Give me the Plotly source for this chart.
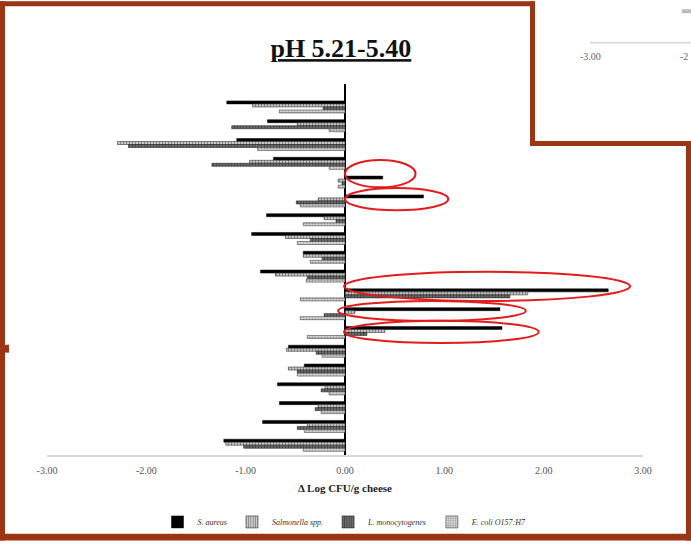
import plotly.graph_objects as go

groups = [f"G{i}" for i in range(1, 20)]
s_aureus = [-1.19, -0.78, -1.09, -0.72, 0.38, 0.79, -0.79, -0.94, -0.42, -0.85,
            2.65, 1.56, 1.58, -0.57, -0.41, -0.68, -0.66, -0.83, -1.22]
salmonella = [-0.93, -0.48, -2.29, -0.96, -0.07, -0.27, -0.21, -0.60, -0.42, -0.70,
              1.84, 0.10, 0.40, -0.59, -0.57, -0.20, -0.27, -0.38, -1.20]
l_mono = [-0.22, -1.14, -2.18, -1.34, -0.03, -0.49, -0.09, -0.35, -0.23, -0.38,
          1.66, -0.21, 0.22, -0.29, -0.48, -0.24, -0.30, -0.48, -1.02]
e_coli = [-0.66, -0.16, -0.88, -0.16, -0.07, -0.45, -0.42, -0.48, -0.35, -0.39,
          -0.45, -0.45, -0.38, -0.23, -0.48, -0.16, -0.24, -0.41, -0.42]
series_names = ["S. aureus", "Salmonella spp.", "L. monocytogenes", "E. coli O157:H7"]
tick_vals = [-3, -2, -1, 0, 1, 2, 3]
tick_text = ["-3.00", "-2.00", "-1.00", "0.00", "1.00", "2.00", "3.00"]

# highlighted groups (x extent in data units, y extent in category index)
highlights = [(0.0, 0.71, 2.82, 4.28), (0.0, 1.04, 4.31, 5.50), (-0.01, 2.87, 8.77, 10.32),
              (-0.07, 1.82, 10.32, 11.38), (-0.01, 1.95, 11.38, 12.56)]

SERIF = "Liberation Serif, Times New Roman, serif"
BROWN = "#9b3513"

styles = [
    dict(color="#000000", line=dict(color="#000000", width=0.5)),
    dict(color="#c8c8c8", line=dict(color="#333333", width=0.6),
         pattern=dict(shape="|", fgcolor="#444444", size=3, solidity=0.35)),
    dict(color="#6a6a6a", line=dict(color="#222222", width=0.6),
         pattern=dict(shape="|", fgcolor="#2a2a2a", size=3, solidity=0.35)),
    dict(color="#d8d8d8", line=dict(color="#444444", width=0.6),
         pattern=dict(shape=".", fgcolor="#555555", size=3, solidity=0.4)),
]

fig = go.Figure()
for name, vals, st in zip(series_names, [s_aureus, salmonella, l_mono, e_coli], styles):
    fig.add_trace(go.Bar(y=groups, x=vals, orientation="h", name=name, marker=st))

shapes = []
for x0, x1, y0, y1 in highlights:
    shapes.append(dict(type="circle", xref="x", yref="y", x0=x0, x1=x1, y0=y0, y1=y1,
                       line=dict(color="#e31b1b", width=2)))

W, H = 691, 548
L, R, T, B = 47, 48, 84, 87
pw, ph = W - L - R, H - T - B


def px(x):
    return (x - L) / pw


def py(y):
    return (H - B - y) / ph


def rect(x0, y0, x1, y1):
    return dict(type="rect", xref="paper", yref="paper", x0=px(x0), x1=px(x1),
                y0=py(y1), y1=py(y0), fillcolor=BROWN, line=dict(width=0), layer="above")


shapes += [
    rect(0, 0, 535, 5),        # top
    rect(0, 0, 5, 548),        # left
    rect(0, 541, 691, 548),    # bottom
    rect(530, 0, 535, 147),    # inset left
    rect(530, 142, 691, 147),  # inset bottom
    rect(686, 142, 691, 548),  # right
    rect(0, 349, 9, 357),      # small protrusion
    dict(type="line", xref="paper", yref="paper", x0=px(590), x1=px(691), y0=py(42), y1=py(42),
         line=dict(color="#dddddd", width=2)),
    dict(type="rect", xref="paper", yref="paper", x0=px(682), x1=px(691), y0=py(12), y1=py(8),
         fillcolor="#bbbbbb", line=dict(width=0)),
]

annotations = [
    dict(text="-3.00", xref="paper", yref="paper", x=px(590), y=py(56), xanchor="center",
         yanchor="middle", showarrow=False, font=dict(family=SERIF, size=10, color="#666666")),
    dict(text="-2", xref="paper", yref="paper", x=px(690), y=py(56), xanchor="right",
         yanchor="middle", showarrow=False, font=dict(family=SERIF, size=10, color="#666666")),
]

fig.update_layout(
    width=W, height=H,
    margin=dict(l=L, r=R, t=T, b=B),
    paper_bgcolor="white", plot_bgcolor="white",
    barmode="group", bargap=0.36, bargroupgap=0.0,
    title=dict(text="<b>pH 5.21-5.40</b>", x=px(341), y=1 - 48 / H, xanchor="center",
               yanchor="middle",
               font=dict(family=SERIF, size=26, color="#111111", lineposition="under")),
    xaxis=dict(range=[-3, 3], tickvals=tick_vals, ticktext=tick_text, showgrid=False,
               zeroline=True, zerolinecolor="#000000", zerolinewidth=1.5,
               showline=True, linecolor="#d9d9d9", linewidth=2,
               ticks="outside", ticklen=5, tickcolor="rgba(0,0,0,0)",
               tickfont=dict(family=SERIF, size=10, color="#555555"),
               title=dict(text="<b>Δ Log CFU/g cheese</b>", standoff=9,
                          font=dict(family=SERIF, size=11, color="#222222"))),
    yaxis=dict(categoryorder="array", categoryarray=groups, range=[18.52, -1.22],
               showticklabels=False, showgrid=False, zeroline=False, showline=False, ticks=""),
    legend=dict(orientation="h", x=0.5, xanchor="center", y=py(529), yanchor="middle",
                font=dict(family=SERIF, size=8, color="#333333", style="italic"),
                itemwidth=30, bgcolor="rgba(0,0,0,0)"),
    shapes=shapes,
    annotations=annotations,
)

fig.write_html(
    "out.html",
    config={"displayModeBar": False},
    post_script=("document.documentElement.style.margin='0';"
                 "document.body.style.margin='0';document.body.style.padding='0';"
                 "document.body.style.overflow='hidden';"),
)
